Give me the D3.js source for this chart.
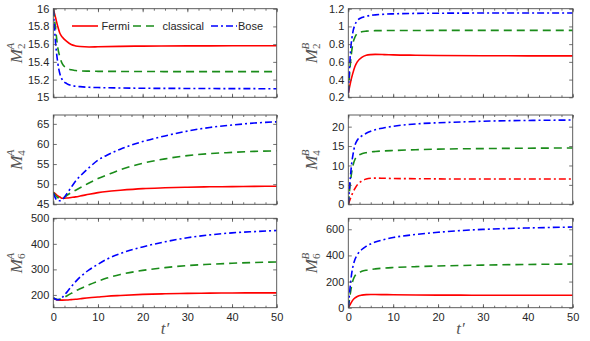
<!DOCTYPE html>
<html>
<head>
<meta charset="utf-8">
<script src="https://d3js.org/d3.v7.min.js"></script>
<style>
  body { margin: 0; background: #fff; }
  svg { display: block; }
</style>
</head>
<body>
<svg id="chart" width="590" height="341"></svg>
<script>
// time samples for each row
const tA = [0, 0.5, 1, 1.5, 2, 3, 4, 5, 6, 8, 10, 15, 20, 30, 40, 50]
const tB = [0, 0.25, 0.5, 0.75, 1, 1.5, 2, 3, 4, 5, 6, 8, 10, 15, 20, 25, 30, 40, 50]
const tC = [0, 0.5, 1, 1.5, 2, 3, 4, 5, 6, 8, 10, 12, 15, 20, 25, 30, 35, 40, 45, 50]

// M2A
const fermiM2A = [16, 15.9, 15.8, 15.72, 15.68, 15.63, 15.595, 15.58, 15.573, 15.568, 15.57, 15.575, 15.578, 15.58, 15.581, 15.582]
const classicalM2A = [16, 15.78, 15.56, 15.45, 15.38, 15.33, 15.31, 15.302, 15.298, 15.295, 15.293, 15.292, 15.291, 15.29, 15.29, 15.29]
const boseM2A = [16, 15.62, 15.39, 15.26, 15.2, 15.155, 15.135, 15.125, 15.12, 15.113, 15.11, 15.105, 15.102, 15.1, 15.098, 15.097]
// M2B
const fermiM2B = [0.245, 0.37, 0.47, 0.55, 0.6, 0.65, 0.675, 0.682, 0.684, 0.682, 0.679, 0.675, 0.672, 0.669, 0.668, 0.667]
const classicalM2B = [0.245, 0.6, 0.8, 0.88, 0.92, 0.94, 0.947, 0.95, 0.952, 0.953, 0.954, 0.954, 0.955, 0.955, 0.955, 0.955]
const boseM2B = [0.245, 0.72, 0.93, 1.02, 1.065, 1.1, 1.115, 1.125, 1.13, 1.138, 1.142, 1.147, 1.149, 1.151, 1.152, 1.152]
// M4A
const fermiM4A = [48, 47.6, 47.1, 46.8, 46.5, 46.55, 46.7, 46.85, 47.05, 47.5, 47.9, 48.2, 48.5, 48.9, 49.1, 49.25, 49.35, 49.4, 49.45, 49.5]
const classicalM4A = [48, 47.2, 46.7, 46.45, 46.5, 47.2, 47.9, 48.5, 49.1, 50.3, 51.4, 52.3, 53.6, 55.2, 56.3, 57.1, 57.6, 57.9, 58.15, 58.3]
const boseM4A = [47.8, 46.5, 45.9, 45.9, 46.1, 47.6, 49.2, 50.8, 52.0, 54.1, 56.0, 57.2, 58.7, 60.6, 62.0, 63.2, 64.1, 64.7, 65.2, 65.5]
// M4B
const fermiM4B = [0, 0.8, 1.6, 2.3, 3.0, 4.1, 5.0, 6.0, 6.5, 6.7, 6.75, 6.7, 6.65, 6.6, 6.55, 6.5, 6.5, 6.5, 6.5]
const classicalM4B = [0, 3.2, 6.0, 8.2, 9.8, 11.6, 12.4, 13.0, 13.3, 13.5, 13.6, 13.75, 13.85, 14.05, 14.2, 14.3, 14.35, 14.45, 14.5]
const boseM4B = [0, 4.0, 7.5, 10.5, 12.5, 15.3, 16.5, 17.6, 18.3, 18.8, 19.2, 19.7, 20.1, 20.7, 21.0, 21.2, 21.4, 21.6, 21.7]
// M6A
const fermiM6A = [187, 183, 180, 179.5, 179.5, 180, 181.5, 183, 185, 189, 192, 195, 198, 202, 204.5, 206, 207, 207.5, 208, 208]
const classicalM6A = [188, 184, 182, 183, 186, 196, 206, 216, 224, 240, 254, 266, 280, 296, 307, 315, 320, 324, 327, 329]
const boseM6A = [188, 183, 181, 183, 190, 210, 232, 252, 270, 298, 320, 340, 362, 388, 408, 424, 435, 443, 448, 452]
// M6B
const fermiM6B = [0, 15, 30, 45, 58, 75, 86, 96, 100, 101, 101, 100, 99, 97, 96, 96, 95, 95, 95]
const classicalM6B = [0, 60, 120, 170, 205, 245, 262, 278, 287, 293, 297, 303, 307, 314, 319, 323, 326, 331, 334]
const boseM6B = [0, 100, 190, 260, 310, 370, 405, 445, 470, 488, 502, 522, 537, 560, 577, 590, 599, 610, 617]

const xTicks = [0, 10, 20, 30, 40, 50]
const legendNames = ['Fermi', 'classical', 'Bose']

const svg = d3.select('#chart')
const axisColor = '#4d4d4d'
const textColor = '#262626'
const colors = ['#ff0000', '#1a8c1a', '#0000ff']
const dashes = [null, '8,5', '7,3,2,3']
const tickFont = '"Liberation Sans", Arial, sans-serif'
const serif = '"Liberation Serif", "Times New Roman", serif'

const cols = [[53.3, 276.7], [348.3, 572.7]]
const rows = [[8.7, 97.3], [115, 204.3], [218.3, 307.7]]

const panels = [
  { row: 0, col: 0, t: tA, series: [fermiM2A, classicalM2A, boseM2A], domain: [15, 16], ticks: [15, 15.2, 15.4, 15.6, 15.8, 16], sub: '2', sup: 'A', legend: true },
  { row: 0, col: 1, t: tA, series: [fermiM2B, classicalM2B, boseM2B], domain: [0.2, 1.2], ticks: [0.2, 0.4, 0.6, 0.8, 1, 1.2], sub: '2', sup: 'B' },
  { row: 1, col: 0, t: tC, series: [fermiM4A, classicalM4A, boseM4A], domain: [45, 67.2], ticks: [45, 50, 55, 60, 65], sub: '4', sup: 'A' },
  { row: 1, col: 1, t: tB, series: [fermiM4B, classicalM4B, boseM4B], domain: [0, 23], ticks: [0, 5, 10, 15, 20], sub: '4', sup: 'B', fermiDash: '7,3,2,3' },
  { row: 2, col: 0, t: tC, series: [fermiM6A, classicalM6A, boseM6A], domain: [150, 500], ticks: [200, 300, 400, 500], sub: '6', sup: 'A' },
  { row: 2, col: 1, t: tB, series: [fermiM6B, classicalM6B, boseM6B], domain: [0, 684], ticks: [0, 200, 400, 600], sub: '6', sup: 'B' }
]

const minorTicks = d3.range(0, 50.01, 2.5)

panels.forEach((p, i) => {
  const [x0, x1] = cols[p.col]
  const [y0, y1] = rows[p.row]
  const x = d3.scaleLinear().domain([0, 50]).range([x0, x1])
  const y = d3.scaleLinear().domain(p.domain).range([y1, y0])
  const g = svg.append('g')

  g.append('clipPath').attr('id', 'clip' + i)
    .append('rect').attr('x', x0).attr('y', y0).attr('width', x1 - x0).attr('height', y1 - y0)

  const line = d3.line()
    .x((d, k) => x(p.t[k]))
    .y(d => y(d))
    .curve(d3.curveMonotoneX)

  p.series.forEach((s, k) => {
    let dash = dashes[k]
    if (k === 0 && p.fermiDash) dash = p.fermiDash
    g.append('path')
      .attr('d', line(s))
      .attr('fill', 'none')
      .attr('stroke', colors[k])
      .attr('stroke-width', 1.6)
      .attr('stroke-dasharray', dash)
      .attr('clip-path', `url(#clip${i})`)
  })

  // minor x ticks, top and bottom, pointing inwards
  g.append('g').attr('transform', `translate(0,${y1})`)
    .call(d3.axisBottom(x).tickValues(minorTicks).tickSize(-2).tickFormat(''))
  g.append('g').attr('transform', `translate(0,${y0})`)
    .call(d3.axisTop(x).tickValues(minorTicks).tickSize(-2).tickFormat(''))

  const xAxis = d3.axisBottom(x).tickValues(xTicks).tickSizeInner(-3.5).tickSizeOuter(0).tickPadding(6)
  if (p.row !== 2) xAxis.tickFormat('')
  g.append('g').attr('class', 'xaxis').attr('transform', `translate(0,${y1})`).call(xAxis)
  g.append('g').attr('transform', `translate(0,${y0})`)
    .call(d3.axisTop(x).tickValues(xTicks).tickSizeInner(-3.5).tickSizeOuter(0).tickFormat(''))

  g.append('g').attr('transform', `translate(${x0},0)`)
    .call(d3.axisLeft(y).tickValues(p.ticks).tickSizeInner(-3.5).tickSizeOuter(0).tickPadding(4).tickFormat(d3.format('~g')))
  g.append('g').attr('transform', `translate(${x1},0)`)
    .call(d3.axisRight(y).tickValues(p.ticks).tickSizeInner(-3.5).tickSizeOuter(0).tickFormat(''))

  g.append('rect')
    .attr('x', x0).attr('y', y0).attr('width', x1 - x0).attr('height', y1 - y0)
    .attr('fill', 'none').attr('stroke', axisColor).attr('stroke-width', 0.9)

  // y label M_n^X
  const lab = g.append('text')
    .attr('transform', `translate(${x0 - 31},${(y0 + y1) / 2}) rotate(-90)`)
    .attr('text-anchor', 'middle')
    .style('font-family', serif)
    .style('font-style', 'italic')
    .style('fill', '#555')
  lab.append('tspan').text('M').style('font-size', '17px')
  lab.append('tspan').text(p.sub).style('font-size', '11px').style('font-style', 'normal').attr('dy', 3)
  lab.append('tspan').text(p.sup).style('font-size', '11px').attr('dx', -6).attr('dy', -11)

  if (p.row === 2) {
    g.append('text')
      .attr('x', (x0 + x1) / 2).attr('y', 334)
      .attr('text-anchor', 'middle')
      .style('font-family', serif).style('font-style', 'italic').style('font-size', '17px')
      .style('fill', '#555')
      .text('t\u2032')
  }

  if (p.legend) {
    const items = [
      { lx: 72, tx: 101.5 },
      { lx: 133, tx: 162.5 },
      { lx: 211, tx: 238 }
    ]
    items.forEach((it, k) => {
      g.append('line')
        .attr('x1', it.lx).attr('x2', it.lx + 26).attr('y1', 26).attr('y2', 26)
        .attr('stroke', colors[k]).attr('stroke-width', 1.6)
        .attr('stroke-dasharray', dashes[k])
      g.append('text')
        .attr('x', it.tx).attr('y', 30)
        .style('font-family', tickFont).style('font-size', '11px').style('fill', textColor)
        .text(legendNames[k])
    })
  }
})

svg.selectAll('.domain').remove()
svg.selectAll('.tick line').attr('stroke', axisColor).attr('stroke-width', 0.8)
svg.selectAll('.tick text')
  .style('font-family', tickFont)
  .style('font-size', '11px')
  .style('fill', textColor)
</script>
</body>
</html>
